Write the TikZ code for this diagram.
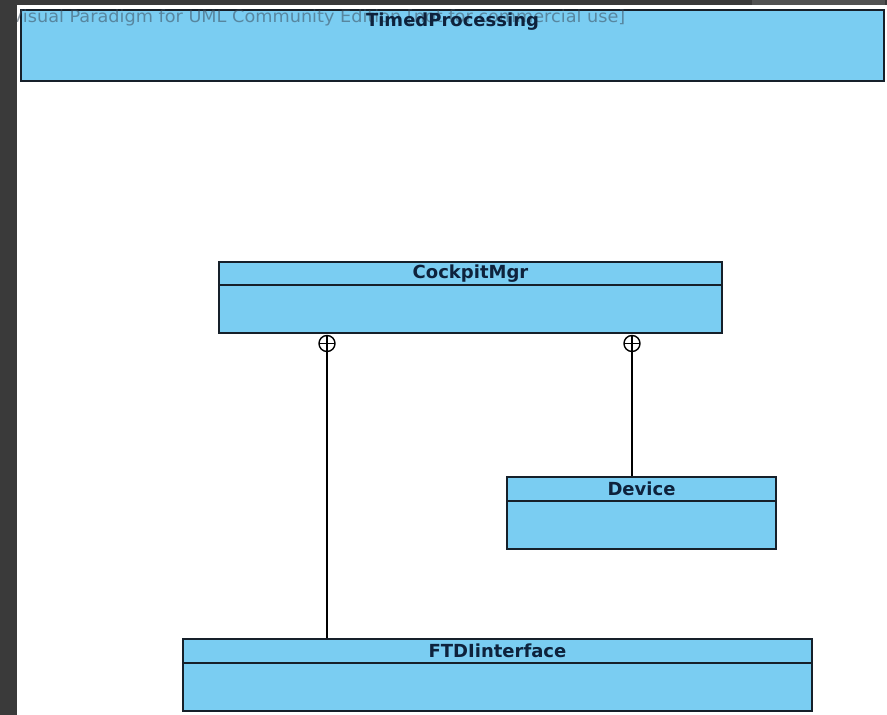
\documentclass[tikz,border=0pt]{standalone}
\usepackage{fontspec}
\setmainfont{DejaVu Sans}
\usepackage{tikz}
\usetikzlibrary{positioning,calc}
\definecolor{vpfill}{RGB}{122,205,242}
\definecolor{vpline}{RGB}{22,32,42}
\definecolor{vptext}{RGB}{14,34,60}
\definecolor{vpframe}{RGB}{58,58,58}
\definecolor{vpmark}{RGB}{60,76,92}

\tikzset{
  umlclass/.style={rectangle, draw=vpline, fill=vpfill, line width=1.6pt, inner sep=0pt},
  classname/.style={font=\bfseries\fontsize{18}{21}\selectfont, text=vptext, inner sep=0pt},
  nestmark/.style={circle, draw=black, fill=white, line width=1.4pt, minimum size=16pt, inner sep=0pt,
    path picture={\draw[line width=1.4pt] (path picture bounding box.north) -- (path picture bounding box.south)
      (path picture bounding box.west) -- (path picture bounding box.east);}},
  nestline/.style={draw=black, line width=1.5pt}
}

\begin{document}
\begin{tikzpicture}[x=1pt, y=-1pt]
  \useasboundingbox (0,0) rectangle (887,715);
  \fill[white] (0,0) rectangle (887,715);
  % outer class
  \node[umlclass, minimum width=863pt, minimum height=71pt] (timed) at (452.5,45.5) {};
  \node[anchor=base west, text=vpmark, text opacity=0.55, inner sep=0pt] (mark) at (11,22)
    {\scalebox{1.04}[1]{\fontsize{17}{19}\selectfont Visual Paradigm for UML Community Edition [not for commercial use]}};
  \node[classname] (timedname) at ($(timed.north)+(0,12)$) {TimedProcessing};
  % nested classes
  \node[umlclass, minimum width=503pt, minimum height=71pt] (cockpit) at (470.5,297.5) {};
  \draw[vpline, line width=1.6pt] ($(cockpit.north west)+(0,24)$) -- ($(cockpit.north east)+(0,24)$);
  \node[classname] (cockpitname) at ($(cockpit.north)+(0,12)$) {CockpitMgr};
  \node[umlclass, minimum width=269pt, minimum height=72pt] (device) at (641.5,513) {};
  \draw[vpline, line width=1.6pt] ($(device.north west)+(0,25)$) -- ($(device.north east)+(0,25)$);
  \node[classname] (devicename) at ($(device.north)+(0,12.5)$) {Device};
  \node[umlclass, minimum width=629pt, minimum height=72pt] (ftdi) at (497.5,675) {};
  \draw[vpline, line width=1.6pt] ($(ftdi.north west)+(0,25)$) -- ($(ftdi.north east)+(0,25)$);
  \node[classname] (ftdiname) at ($(ftdi.north)+(0,12.5)$) {FTDIinterface};
  % containment
  \node[nestmark] (nestL) at (327,343.5) {};
  \node[nestmark] (nestR) at (632,343.5) {};
  \draw[nestline] (nestL.south) -- (ftdi.north -| nestL.south);
  \draw[nestline] (nestR.south) -- (device.north -| nestR.south);
  % window frame
  \fill[vpframe] (0,0) rectangle (887,5);
  \fill[vpframe!88!white] (752,0) rectangle (885,5);
  \fill[vpframe] (0,0) rectangle (17,715);
\end{tikzpicture}
\end{document}
